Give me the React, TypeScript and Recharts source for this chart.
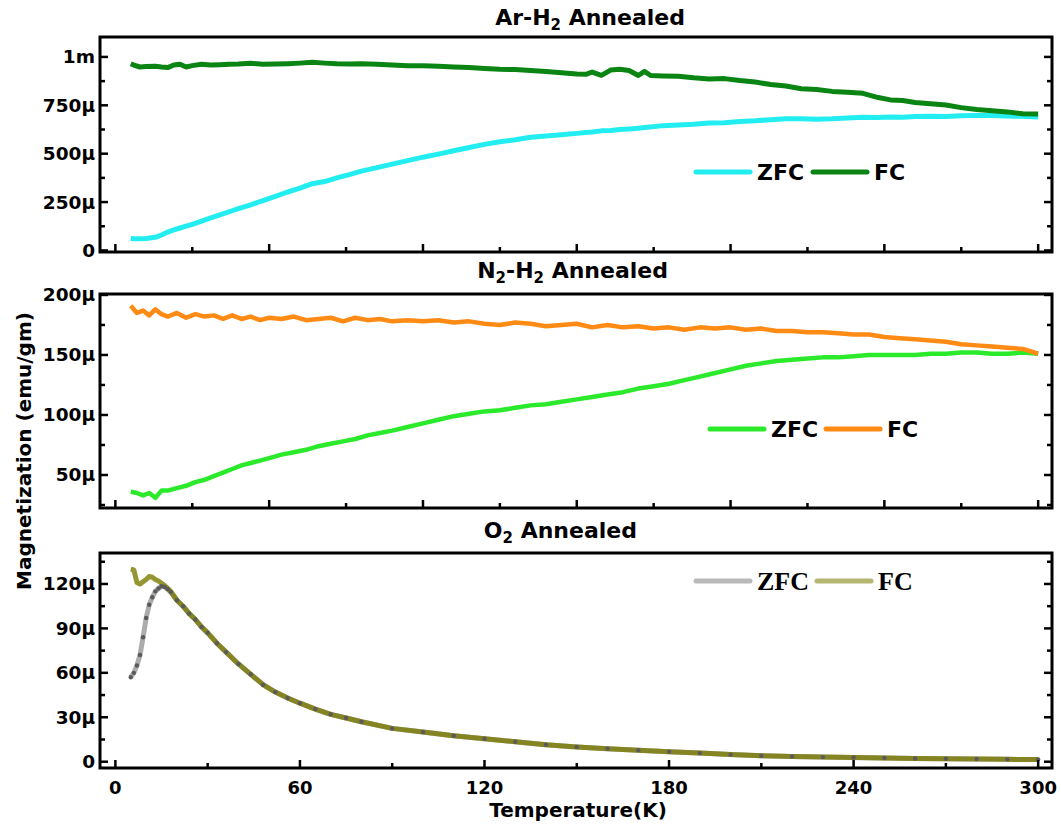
import React from "react";
import { LineChart, Line, XAxis, YAxis, ReferenceArea, Legend } from "recharts";

// temperature in K, magnetization in µemu/gm

// Ar-H2 annealed
const arT = [
  5, 6, 8, 10, 13, 15, 17, 19, 21, 23, 25, 28, 31, 34, 37, 40, 44, 48, 52, 56,
  60, 64, 68, 72, 76, 80, 85, 90, 95, 100, 105, 110, 115, 120, 125, 130, 135, 140, 145, 150,
  153, 155, 158, 161, 164, 167, 170, 172, 174, 178, 183, 188, 193, 198, 203, 208, 213, 218, 223, 228,
  233, 238, 243, 248, 252, 256, 260, 265, 270, 275, 280, 285, 290, 295, 300,
];
const arZfc = [
  62, 60, 60, 62, 68, 80, 95, 106, 116, 126, 135, 152, 168, 184, 200, 216, 236, 258, 280, 302,
  322, 345, 356, 375, 392, 410, 428, 446, 464, 482, 498, 515, 532, 548, 562, 572, 585, 592, 598, 605,
  610, 612, 618, 620, 625, 628, 632, 635, 638, 645, 648, 652, 658, 660, 666, 670, 676, 680, 680, 678,
  680, 685, 688, 687, 690, 688, 692, 694, 692, 696, 698, 697, 695, 693, 690,
];
const arFc = [
  965, 958, 948, 950, 952, 948, 945, 958, 962, 948, 955, 962, 958, 960, 962, 963, 967, 962, 963, 965,
  968, 972, 968, 965, 964, 965, 962, 958, 955, 955, 952, 948, 945, 940, 936, 935, 930, 925, 918, 912,
  910, 922, 905, 932, 936, 930, 904, 925, 904, 902, 900, 892, 886, 888, 878, 870, 858, 850, 836, 832,
  822, 818, 812, 790, 778, 775, 765, 758, 752, 738, 728, 722, 716, 706, 705,
];

// N2-H2 annealed
const n2T = [
  5, 7, 9, 11, 13, 15, 17, 20, 23, 26, 29, 32, 35, 38, 41, 44, 47, 50, 54, 58,
  62, 66, 70, 74, 78, 82, 86, 90, 95, 100, 105, 110, 115, 120, 125, 130, 135, 140, 145, 150,
  155, 160, 165, 170, 175, 180, 185, 190, 195, 200, 205, 210, 215, 220, 225, 230, 235, 240, 245, 250,
  255, 260, 265, 270, 275, 280, 285, 290, 295, 300,
];
const n2Zfc = [
  36, 35, 33, 35, 31, 37, 37, 39, 41, 44, 46, 49, 52, 55, 58, 60, 62, 64, 67, 69,
  71, 74, 76, 78, 80, 83, 85, 87, 90, 93, 96, 99, 101, 103, 104, 106, 108, 109, 111, 113,
  115, 117, 119, 122, 124, 126, 129, 132, 135, 138, 141, 143, 145, 146, 147, 148, 148, 149, 150, 150,
  150, 150, 151, 151, 152, 152, 151, 151, 152, 151,
];
const n2Fc = [
  191, 185, 187, 183, 188, 184, 182, 185, 181, 184, 182, 183, 180, 183, 180, 182, 179, 181, 180, 182,
  179, 180, 181, 178, 181, 179, 180, 178, 179, 178, 179, 177, 178, 176, 175, 177, 176, 174, 175, 176,
  173, 175, 173, 174, 172, 173, 171, 173, 172, 173, 171, 172, 170, 170, 169, 169, 168, 167, 167, 165,
  164, 163, 162, 161, 159, 158, 157, 156, 155, 151,
];

// O2 annealed
const o2T = [
  5, 6, 7, 8, 9, 10, 11, 12, 13, 14, 15, 16, 17, 18, 20, 22, 24, 26, 28, 30,
  33, 36, 40, 44, 48, 52, 56, 60, 65, 70, 75, 80, 90, 100, 110, 120, 130, 140, 150, 160,
  170, 180, 190, 200, 210, 220, 230, 240, 250, 260, 270, 280, 290, 300,
];
const o2Zfc = [
  57, 60, 65, 72, 84, 97, 106, 111, 115, 117, 118.5, 118, 116.5, 114.5, 109, 105, 100, 96, 91, 87,
  80, 74, 66, 59, 52, 47, 43, 39.5, 35.5, 32, 29.5, 27, 22.5, 20, 17.5, 15.5, 13.5, 11.5, 10, 8.8,
  7.8, 6.8, 5.8, 4.8, 4.0, 3.5, 3.1, 2.8, 2.5, 2.2, 2.0, 1.8, 1.6, 1.5,
];
const o2Fc = [
  130, 129.5, 121, 120, 121.5, 123, 125, 124.5, 123, 122, 120.5, 119, 117, 115, 109, 105, 100, 96, 91, 87,
  80, 74, 66, 59, 52, 47, 43, 39.5, 35.5, 32, 29.5, 27, 22.5, 20, 17.5, 15.5, 13.5, 11.5, 10, 8.8,
  7.8, 6.8, 5.8, 4.8, 4.0, 3.5, 3.1, 2.8, 2.5, 2.2, 2.0, 1.8, 1.6, 1.5,
];

// ticks
const xTicksUpper = [0, 25, 50, 75, 100, 125, 150, 175, 200, 225, 250, 275, 300];
const xTicksLower = [0, 30, 60, 90, 120, 150, 180, 210, 240, 270, 300];
const arYTicks = [0, 125, 250, 375, 500, 625, 750, 875, 1000];
const n2YTicks = [25, 50, 75, 100, 125, 150, 175, 200];
const o2YTicks = [0, 15, 30, 45, 60, 75, 90, 105, 120, 135];

const X_DOMAIN: [number, number] = [-5, 304.5];
const FONT = "'DejaVu Sans', sans-serif";
const SERIF = "'Liberation Serif', 'Times New Roman', serif";

const rowsOf = (t: number[], zfc: number[], fc: number[]) =>
  t.map((v, i) => ({ t: v, zfc: zfc[i], fc: fc[i] }));

function fmtMag(v: number) {
  if (v === 0) return "0";
  if (v >= 1000) return `${v / 1000}m`;
  return `${v}μ`;
}

function XTick(props: any) {
  const { x, y, payload, major, label } = props;
  const isMajor = payload.value % major === 0;
  const len = isMajor ? 8 : 5;
  return (
    <g>
      <line x1={x} y1={y} x2={x} y2={y - len} stroke="#000" strokeWidth={2.5} />
      {label && isMajor && (
        <text x={x} y={y + 26} textAnchor="middle" fontFamily={FONT} fontWeight="bold" fontSize={18} fill="#000">
          {payload.value}
        </text>
      )}
    </g>
  );
}

function YTickLeft(props: any) {
  const { x, y, payload, major } = props;
  const isMajor = payload.value % major === 0;
  const len = isMajor ? 8 : 5;
  return (
    <g>
      <line x1={x} y1={y} x2={x + len} y2={y} stroke="#000" strokeWidth={2.5} />
      {isMajor && (
        <text x={x - 5} y={y + 6.5} textAnchor="end" fontFamily={FONT} fontWeight="bold" fontSize={18.5} fill="#000">
          {fmtMag(payload.value)}
        </text>
      )}
    </g>
  );
}

function YTickRight(props: any) {
  const { x, y, payload, major } = props;
  const len = payload.value % major === 0 ? 8 : 5;
  return <line x1={x} y1={y} x2={x - len} y2={y} stroke="#000" strokeWidth={2.5} />;
}

function legendContent(step: number, family: string, size: number, opacity: number) {
  return ({ payload }: any) => (
    <svg width={260} height={30} style={{ display: "block" }}>
      {(payload || []).map((e: any, i: number) => (
        <g key={e.value} transform={`translate(${i * step},0)`}>
          <line x1={3} y1={15} x2={57} y2={15} stroke={e.color} strokeWidth={5} strokeLinecap="round" strokeOpacity={opacity} />
          <text x={64} y={15 + size * 0.35} fontFamily={family} fontWeight="bold" fontSize={size} fill="#000">
            {e.value}
          </text>
        </g>
      ))}
    </svg>
  );
}

type PanelProps = {
  top: number;
  height: number;
  plotTop: number;
  plotBottom: number;
  rows: { t: number; zfc: number; fc: number }[];
  yDomain: [number, number];
  yTicks: number[];
  yMajor: number;
  xTicks: number[];
  xMajor: number;
  xLabels: boolean;
  zfcColor: string;
  fcColor: string;
  lineWidth: number;
  zfcOpacity: number;
  fcOpacity: number;
  legendOpacity: number;
  zfcDot?: any;
  legendLeft: number;
  legendY: number;
  legendStep: number;
  legendFont: string;
  legendSize: number;
};

function Panel(p: PanelProps) {
  return (
    <div style={{ position: "absolute", left: 0, top: p.top }}>
      <LineChart width={1061} height={p.height} data={p.rows} margin={{ top: p.plotTop, right: 0, bottom: 0, left: 0 }}>
        <XAxis
          dataKey="t"
          type="number"
          domain={X_DOMAIN}
          allowDataOverflow
          ticks={p.xTicks}
          interval={0}
          height={p.height - p.plotBottom}
          axisLine={false}
          tickLine={false}
          tickSize={0}
          tickMargin={0}
          tick={(tp: any) => <XTick {...tp} major={p.xMajor} label={p.xLabels} />}
        />
        <YAxis
          width={100}
          type="number"
          domain={p.yDomain}
          allowDataOverflow
          ticks={p.yTicks}
          interval={0}
          axisLine={false}
          tickLine={false}
          tickSize={0}
          tickMargin={0}
          tick={(tp: any) => <YTickLeft {...tp} major={p.yMajor} />}
        />
        <YAxis
          yAxisId="right"
          orientation="right"
          width={9}
          type="number"
          domain={p.yDomain}
          allowDataOverflow
          ticks={p.yTicks}
          interval={0}
          axisLine={false}
          tickLine={false}
          tickSize={0}
          tickMargin={0}
          tick={(tp: any) => <YTickRight {...tp} major={p.yMajor} />}
        />
        <Line
          type="linear"
          dataKey="zfc"
          name="ZFC"
          stroke={p.zfcColor}
          strokeWidth={p.lineWidth}
          strokeOpacity={p.zfcOpacity}
          strokeLinejoin="round"
          dot={p.zfcDot || false}
          isAnimationActive={false}
        />
        <Line
          type="linear"
          dataKey="fc"
          name="FC"
          stroke={p.fcColor}
          strokeWidth={p.lineWidth}
          strokeOpacity={p.fcOpacity}
          strokeLinejoin="round"
          dot={false}
          isAnimationActive={false}
        />
        <ReferenceArea
          x1={X_DOMAIN[0]}
          x2={X_DOMAIN[1]}
          y1={p.yDomain[0]}
          y2={p.yDomain[1]}
          fill="none"
          stroke="#000"
          strokeWidth={3}
          ifOverflow="visible"
        />
        <Legend
          layout="horizontal"
          verticalAlign="middle"
          align="center"
          itemSorter={null as any}
          wrapperStyle={{ left: p.legendLeft, top: p.legendY - p.top - 15, width: 260 }}
          content={legendContent(p.legendStep, p.legendFont, p.legendSize, p.legendOpacity)}
        />
      </LineChart>
    </div>
  );
}

export default function App() {
  const titleStyle = { fontFamily: FONT, fontWeight: "bold" as const, fontSize: 22, fill: "#000" };
  return (
    <div style={{ position: "absolute", left: 0, top: 0, width: 1061, height: 830, background: "#fff" }}>
      <Panel
        top={0}
        height={270}
        plotTop={37}
        plotBottom={252}
        rows={rowsOf(arT, arZfc, arFc)}
        yDomain={[-8, 1103]}
        yTicks={arYTicks}
        yMajor={250}
        xTicks={xTicksUpper}
        xMajor={50}
        xLabels={false}
        zfcColor="#22EEF2"
        fcColor="#0A8412"
        lineWidth={5}
        zfcOpacity={1}
        fcOpacity={1}
        legendOpacity={1}
        legendLeft={693}
        legendY={172}
        legendStep={117}
        legendFont={FONT}
        legendSize={22}
      />
      <Panel
        top={270}
        height={250}
        plotTop={24}
        plotBottom={238}
        rows={rowsOf(n2T, n2Zfc, n2Fc)}
        yDomain={[22.5, 200.8]}
        yTicks={n2YTicks}
        yMajor={50}
        xTicks={xTicksUpper}
        xMajor={50}
        xLabels={false}
        zfcColor="#2BEA2B"
        fcColor="#FF8A14"
        lineWidth={4.5}
        zfcOpacity={1}
        fcOpacity={1}
        legendOpacity={1}
        legendLeft={707}
        legendY={429}
        legendStep={116}
        legendFont={FONT}
        legendSize={22}
      />
      <Panel
        top={520}
        height={310}
        plotTop={33}
        plotBottom={248}
        rows={rowsOf(o2T, o2Zfc, o2Fc)}
        yDomain={[-4.25, 140.9]}
        yTicks={o2YTicks}
        yMajor={30}
        xTicks={xTicksLower}
        xMajor={60}
        xLabels={true}
        zfcColor="#808080"
        fcColor="#7A7A00"
        lineWidth={5}
        zfcOpacity={0.65}
        fcOpacity={0.8}
        legendOpacity={0.55}
        zfcDot={{ r: 2.2, fill: "#5a5a5a", stroke: "none", strokeWidth: 0 }}
        legendLeft={693}
        legendY={581}
        legendStep={121}
        legendFont={SERIF}
        legendSize={26}
      />
      <svg width={1061} height={830} style={{ position: "absolute", left: 0, top: 0, pointerEvents: "none" }}>
        <text x={685} y={25} textAnchor="end" {...titleStyle}>
          Ar-H<tspan fontSize={15} dy={5}>2</tspan>
          <tspan dy={-5}> Annealed</tspan>
        </text>
        <text x={668} y={278} textAnchor="end" {...titleStyle}>
          N<tspan fontSize={15} dy={5}>2</tspan>
          <tspan dy={-5}>-H</tspan>
          <tspan fontSize={15} dy={5}>2</tspan>
          <tspan dy={-5}> Annealed</tspan>
        </text>
        <text x={637} y={538} textAnchor="end" {...titleStyle}>
          O<tspan fontSize={15} dy={5}>2</tspan>
          <tspan dy={-5}> Annealed</tspan>
        </text>
        <text
          transform="translate(31,451) rotate(-90)"
          textAnchor="middle"
          fontFamily={FONT}
          fontWeight="bold"
          fontSize={20}
          fill="#000"
        >
          Magnetization (emu/gm)
        </text>
        <text x={578} y={817} textAnchor="middle" fontFamily={FONT} fontWeight="bold" fontSize={20} fill="#000">
          Temperature(K)
        </text>
      </svg>
    </div>
  );
}
